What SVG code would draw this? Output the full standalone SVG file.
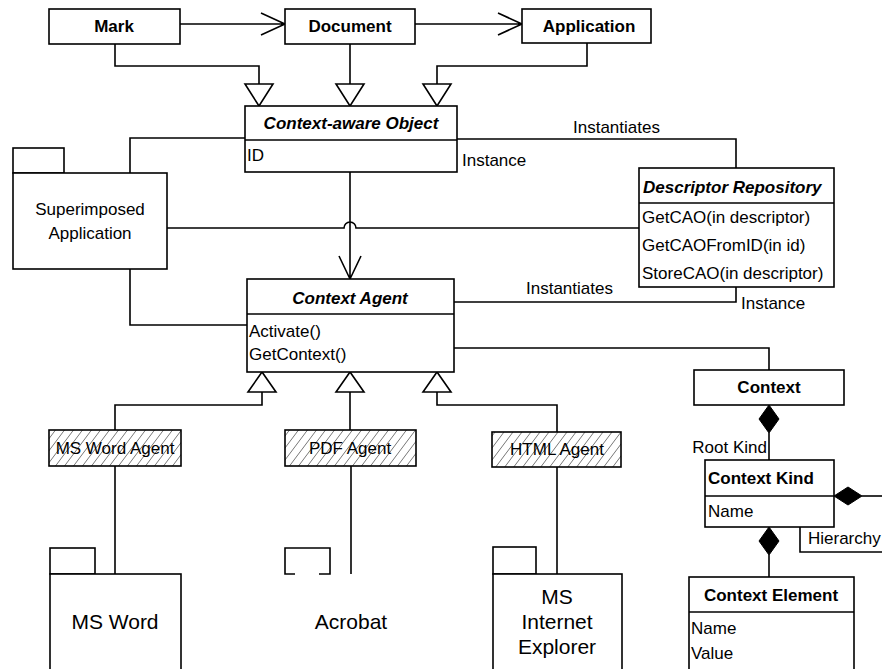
<svg xmlns="http://www.w3.org/2000/svg" width="882" height="669" viewBox="0 0 882 669">
  <style>
    .box { fill: #fff; stroke: #000; stroke-width: 1.6; }
    .hatch { fill: url(#hatch); stroke: #000; stroke-width: 1.6; }
    .ln { fill: none; stroke: #000; stroke-width: 1.6; }
    .tri { fill: #fff; stroke: #000; stroke-width: 1.6; }
    .dia { fill: #000; stroke: #000; stroke-width: 1; }
    text { font-family: "Liberation Sans", Arial, sans-serif; font-size: 17px; fill: #000; }
    .b { font-weight: bold; }
    .bi { font-weight: bold; font-style: italic; }
    .pk { font-size: 21px; }
    .c { text-anchor: middle; }
    .e { text-anchor: end; }
  </style>
  <defs>
    <pattern id="hatch" patternUnits="userSpaceOnUse" width="9" height="12">
      <rect width="9" height="12" fill="#fff"/>
      <path d="M0,12 L9,0 M-3,4 L0,0 M9,12 L12,8" stroke="#666" stroke-width="0.9"/>
    </pattern>
  </defs>

  <rect width="882" height="669" fill="#fff"/>

  <!-- connectors -->
  <g id="connectors">
    <!-- associations between top classes -->
    <path class="ln" d="M180,24 H285 M261,13 L285,24 L261,35"/>
    <path class="ln" d="M415,24 H522 M498,13 L522,24 L498,35"/>
    <!-- generalisations into Context-aware Object -->
    <path class="ln" d="M115,44 V66 H259 V84"/>
    <polygon class="tri" points="245,84 273,84 259,106"/>
    <path class="ln" d="M350,44 V84"/>
    <polygon class="tri" points="336,84 364,84 350,106"/>
    <path class="ln" d="M587,43 V66 H437 V84"/>
    <polygon class="tri" points="423,84 451,84 437,106"/>
    <!-- Context-aware Object to Superimposed Application -->
    <path class="ln" d="M245,138 H130 V173"/>
    <!-- Context-aware Object to Descriptor Repository -->
    <path class="ln" d="M457,139 H736 V168"/>
    <!-- Superimposed Application to Descriptor Repository, hopping over the vertical -->
    <path class="ln" d="M167,228 H344 A6,6 0 0 1 356,228 H639"/>
    <!-- Context-aware Object to Context Agent -->
    <path class="ln" d="M350,172 V279 M339,256 L350,279 L361,256"/>
    <!-- Superimposed Application to Context Agent -->
    <path class="ln" d="M130,269 V325 H247"/>
    <!-- Context Agent to Descriptor Repository -->
    <path class="ln" d="M454,302 H736 V287"/>
    <!-- Context Agent to Context -->
    <path class="ln" d="M454,348 H769 V370"/>
    <!-- generalisations from agents -->
    <polygon class="tri" points="262,372 248,392 276,392"/>
    <path class="ln" d="M262,392 V405 H115 V430"/>
    <polygon class="tri" points="350,372 336,392 364,392"/>
    <path class="ln" d="M350,392 V430"/>
    <polygon class="tri" points="437,372 423,392 451,392"/>
    <path class="ln" d="M437,392 V405 H557 V432"/>
    <!-- agents to applications -->
    <path class="ln" d="M115,466 V574"/>
    <path class="ln" d="M351,466 V574"/>
    <path class="ln" d="M557,467 V574"/>
    <!-- Context composition -->
    <path class="ln" d="M769,433 V460"/>
    <polygon class="dia" points="769,405 779,419 769,433 759,419"/>
    <path class="ln" d="M862,496 H882"/>
    <polygon class="dia" points="834,496 848,487 862,496 848,505"/>
    <path class="ln" d="M800,527 V552 H882"/>
    <path class="ln" d="M769,555 V577"/>
    <polygon class="dia" points="769,527 779,541 769,555 759,541"/>
  </g>

  <!-- labels on connectors -->
  <g id="labels">
    <text x="573" y="133">Instantiates</text>
    <text x="462" y="166">Instance</text>
    <text x="526" y="294">Instantiates</text>
    <text x="741" y="309">Instance</text>
    <text x="767" y="453" class="e">Root Kind</text>
    <text x="808" y="544">Hierarchy</text>
  </g>

  <g id="mark">
    <rect class="box" x="49" y="9" width="131" height="35"/>
    <text x="114" y="32" class="b c">Mark</text>
  </g>
  <g id="document">
    <rect class="box" x="285" y="9" width="130" height="35"/>
    <text x="350" y="32" class="b c">Document</text>
  </g>
  <g id="application">
    <rect class="box" x="522" y="9" width="129" height="34"/>
    <text x="589" y="32" class="b c">Application</text>
  </g>

  <g id="context-aware-object">
    <rect class="box" x="245" y="106" width="212" height="66"/>
    <path class="ln" d="M245,140 H457"/>
    <text x="351" y="129" class="bi c">Context-aware Object</text>
    <text x="247" y="161">ID</text>
  </g>

  <g id="superimposed-application">
    <rect class="box" x="13" y="148" width="51" height="25"/>
    <rect class="box" x="13" y="173" width="154" height="96"/>
    <text x="90" y="215" class="c">Superimposed</text>
    <text x="90" y="239" class="c">Application</text>
  </g>

  <g id="descriptor-repository">
    <rect class="box" x="639" y="168" width="195" height="119"/>
    <path class="ln" d="M639,203 H834"/>
    <text x="643" y="193" class="bi">Descriptor Repository</text>
    <text x="642" y="223">GetCAO(in descriptor)</text>
    <text x="642" y="251">GetCAOFromID(in id)</text>
    <text x="642" y="279">StoreCAO(in descriptor)</text>
  </g>

  <g id="context-agent">
    <rect class="box" x="247" y="279" width="207" height="93"/>
    <path class="ln" d="M247,314 H454"/>
    <text x="350" y="304" class="bi c">Context Agent</text>
    <text x="249" y="337">Activate()</text>
    <text x="249" y="360">GetContext()</text>
  </g>

  <g id="ms-word-agent">
    <rect class="hatch" x="49" y="430" width="132" height="36"/>
    <text x="115" y="454" class="c">MS Word Agent</text>
  </g>
  <g id="pdf-agent">
    <rect class="hatch" x="285" y="430" width="131" height="36"/>
    <text x="350" y="454" class="c">PDF Agent</text>
  </g>
  <g id="html-agent">
    <rect class="hatch" x="492" y="432" width="129" height="35"/>
    <text x="557" y="455" class="c">HTML Agent</text>
  </g>

  <g id="ms-word">
    <rect class="box" x="50" y="548" width="45" height="26"/>
    <rect class="box" x="50" y="574" width="131" height="97"/>
    <text x="115" y="629" class="pk c">MS Word</text>
  </g>
  <g id="acrobat">
    <path class="ln" d="M295,574 H285 V548 H330 V574 H319"/>
    <text x="351" y="629" class="pk c">Acrobat</text>
  </g>
  <g id="ms-internet-explorer">
    <rect class="box" x="493" y="547" width="43" height="27"/>
    <rect class="box" x="493" y="574" width="129" height="97"/>
    <text x="557" y="604" class="pk c">MS</text>
    <text x="557" y="629" class="pk c">Internet</text>
    <text x="557" y="654" class="pk c">Explorer</text>
  </g>

  <g id="context">
    <rect class="box" x="694" y="370" width="150" height="35"/>
    <text x="769" y="393" class="b c">Context</text>
  </g>
  <g id="context-kind">
    <rect class="box" x="705" y="460" width="129" height="67"/>
    <path class="ln" d="M705,496 H834"/>
    <text x="708" y="484" class="b">Context Kind</text>
    <text x="708" y="517">Name</text>
  </g>
  <g id="context-element">
    <rect class="box" x="689" y="577" width="165" height="94"/>
    <path class="ln" d="M689,612 H854"/>
    <text x="771" y="601" class="b c">Context Element</text>
    <text x="691" y="634">Name</text>
    <text x="691" y="659">Value</text>
  </g>
</svg>
